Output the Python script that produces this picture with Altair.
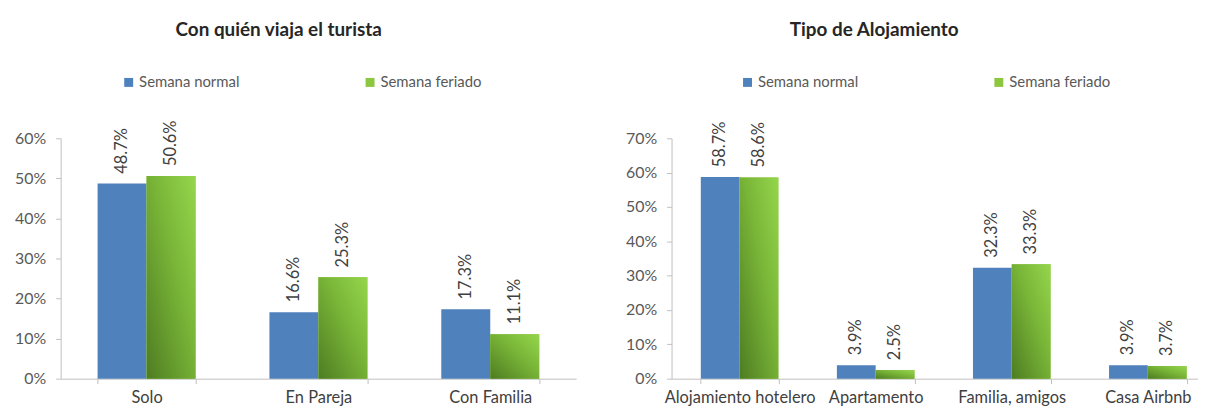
import altair as alt
import pandas as pd

FONT = "Lato"

series = ["Semana normal", "Semana feriado"]
series_colors = ["#4F81BD", "#8DC63F"]

left_title = "Con quién viaja el turista"
left_cats = ["Solo", "En Pareja", "Con Familia"]
left_normal = [0.487, 0.166, 0.173]
left_feriado = [0.506, 0.253, 0.111]
left_yticks = [0.0, 0.1, 0.2, 0.3, 0.4, 0.5, 0.6]

right_title = "Tipo de Alojamiento"
right_cats = ["Alojamiento hotelero", "Apartamento", "Familia, amigos", "Casa Airbnb"]
right_normal = [0.587, 0.039, 0.323, 0.039]
right_feriado = [0.586, 0.025, 0.333, 0.037]
right_yticks = [0.0, 0.1, 0.2, 0.3, 0.4, 0.5, 0.6, 0.7]


def make_df(cats, normal, feriado):
    rows = []
    for c, n, f in zip(cats, normal, feriado):
        rows.append({"cat": c, "serie": series[0], "valor": n})
        rows.append({"cat": c, "serie": series[1], "valor": f})
    return pd.DataFrame(rows)


green_grad = alt.Gradient(
    gradient="linear", x1=0, y1=1, x2=1, y2=0,
    stops=[
        alt.GradientStop(color="#4E7C22", offset=0),
        alt.GradientStop(color="#78B437", offset=0.55),
        alt.GradientStop(color="#95D64C", offset=1),
    ],
)


def panel(cats, normal, feriado, yticks, width, title, title_dx, legend_x, col_pad):
    df = make_df(cats, normal, feriado)
    base = alt.Chart(df).encode(
        x=alt.X(
            "cat:N", sort=cats,
            scale=alt.Scale(paddingInner=0.43, paddingOuter=0.215),
            axis=alt.Axis(
                title=None, labelAngle=0, tickBand="extent", ticks=True,
                tickSize=5, tickColor="#BFBFBF", domainColor="#BFBFBF",
                labelColor="#404040", labelFont=FONT, labelFontSize=16.5,
                labelPadding=6, labelBaseline="top",
            ),
        ),
        xOffset=alt.XOffset("serie:N", sort=series,
                            scale=alt.Scale(domain=series, paddingInner=0, paddingOuter=0)),
        y=alt.Y(
            "valor:Q",
            scale=alt.Scale(domain=[0, yticks[-1]], nice=False),
            axis=alt.Axis(
                title=None, values=yticks, format=".0%", grid=False,
                tickSize=5, tickColor="#BFBFBF", domainColor="#BFBFBF",
                labelColor="#595959", labelFont=FONT, labelFontSize=16,
                labelPadding=10,
            ),
        ),
    )
    bars = base.mark_bar().encode(
        color=alt.Color(
            "serie:N", sort=series,
            scale=alt.Scale(domain=series, range=series_colors),
            legend=alt.Legend(
                title=None, orient="none", legendX=legend_x, legendY=-64,
                direction="horizontal", symbolType="square", symbolSize=81,
                symbolStrokeWidth=0, labelFont=FONT, labelFontSize=15,
                labelColor="#595959", columnPadding=col_pad, labelOffset=3,
            ),
        )
    )
    grad = base.transform_filter(alt.datum.serie == series[1]).mark_bar(color=green_grad)
    labels = base.mark_text(
        angle=270, align="left", baseline="middle", dx=10,
        font=FONT, fontSize=16.5, color="#404040",
    ).encode(text=alt.Text("valor:Q", format=".1%"))
    return alt.layer(bars, grad, labels).properties(
        width=width, height=242,
        title=alt.TitleParams(
            text=title, anchor="middle", frame="group", dx=title_dx, offset=35,
            font=FONT, fontSize=19, fontWeight="bold", color="#262626",
        ),
    )


left = panel(left_cats, left_normal, left_feriado, left_yticks, 519,
             left_title, -40, 61, 123)
right = panel(right_cats, right_normal, right_feriado, right_yticks, 548,
              right_title, -70, 69, 133)

chart = (
    alt.hconcat(left, right, spacing=96, bounds="flush")
    .resolve_scale(color="independent", x="independent", y="independent",
                   xOffset="independent")
    .resolve_legend(color="independent")
    .properties(
        autosize=alt.AutoSizeParams(type="none"),
        padding={"left": 53, "top": 129, "right": 1145, "bottom": 273},
    )
    .configure_view(stroke=None)
)

chart.save("out.html", embed_options={"renderer": "svg", "actions": False})
